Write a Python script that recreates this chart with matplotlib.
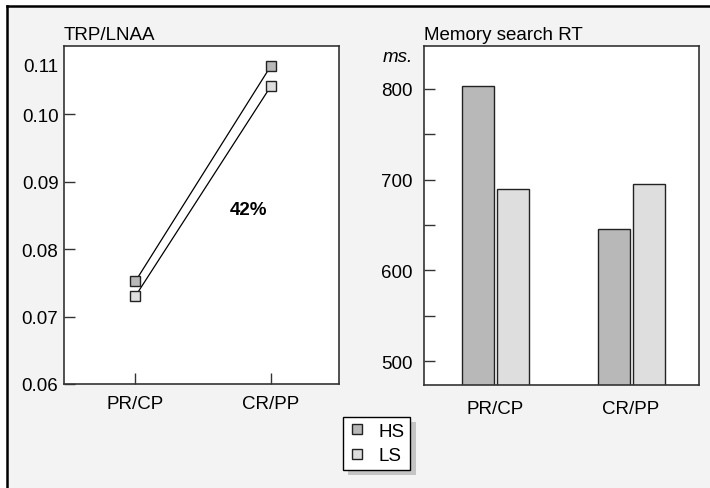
import matplotlib
matplotlib.use('Agg')
import matplotlib.pyplot as plt
import matplotlib.transforms as mtransforms
from matplotlib.patches import Rectangle
from matplotlib.lines import Line2D
import numpy as np

plt.rcParams['font.family'] = ['Liberation Sans', 'DejaVu Sans']

# data
conditions = ['PR/CP', 'CR/PP']
groups = ['HS', 'LS']
trp_hs = [0.0752, 0.1072]
trp_ls = [0.0730, 0.1042]
rt_hs = [803, 646]
rt_ls = [690, 695]
change_label = '42%'

colours = {'HS': '#b8b8b8', 'LS': '#dedede'}
W, H = 710, 489
fs = 13.5

fig = plt.figure(figsize=(W / 100, H / 100), dpi=100)
fig.patch.set_facecolor('white')

# grey panel with black top / left border
fig.patches.append(Rectangle((7 / W, 0), 1, 1 - 7 / H, transform=fig.transFigure,
                             facecolor='#f3f3f3', edgecolor='none', zorder=-2))
fig.lines.append(Line2D([7 / W, 7 / W], [0, 1 - 7 / H], transform=fig.transFigure,
                        color='black', lw=1.8, zorder=-1))
fig.lines.append(Line2D([7 / W, 1], [1 - 7 / H, 1 - 7 / H], transform=fig.transFigure,
                        color='black', lw=1.8, zorder=-1))

ax1 = fig.add_axes([64 / W, 1 - 385 / H, 275 / W, 338 / H])
ax2 = fig.add_axes([424 / W, 1 - 386 / H, 275 / W, 339 / H])

x = np.arange(len(conditions))

for ax in (ax1, ax2):
    ax.set_facecolor('white')
    for s in ax.spines.values():
        s.set_color('#333333')
        s.set_linewidth(1.2)
    ax.set_xlim(-0.525, 1.5)
    ax.set_xticks(x)
    ax.set_xticklabels(conditions, fontsize=fs)

# --- left: TRP/LNAA lines
for g, vals in (('HS', trp_hs), ('LS', trp_ls)):
    ax1.plot(x, vals, color='black', lw=0.9, marker='s', markersize=7.5,
             markerfacecolor=colours[g], markeredgecolor='#222222', markeredgewidth=1.0)
ax1.set_ylim(0.06, 0.1101)
ax1.set_yticks([0.06, 0.07, 0.08, 0.09, 0.10, 0.11])
ax1.set_yticklabels(['0.06', '0.07', '0.08', '0.09', '0.10', '0.11'], fontsize=fs)
ax1.tick_params(axis='both', direction='in', length=8, width=1, color='#333333')
ax1.tick_params(axis='y', pad=4)
ax1.tick_params(axis='x', pad=8)
ax1.set_title('TRP/LNAA', loc='left', fontsize=fs, pad=5)
ax1.text(0.83, 0.0859, change_label, fontsize=fs, fontweight='bold', ha='center', va='center')
# the top label sits a little below the frame in the original, with no tick mark
top_tick = ax1.yaxis.get_major_ticks()[-1]
top_tick.tick1line.set_visible(False)
lab = top_tick.label1
lab.set_transform(lab.get_transform() + mtransforms.ScaledTranslation(0, -18 / 100, fig.dpi_scale_trans))

# --- right: memory search RT bars
bw = 0.235
off = 0.129
ax2.bar(x - off, rt_hs, width=bw, color=colours['HS'], edgecolor='#222222', linewidth=1.0)
ax2.bar(x + off, rt_ls, width=bw, color=colours['LS'], edgecolor='#222222', linewidth=1.0)
ax2.set_ylim(474, 847)
ax2.set_yticks([500, 600, 700, 800])
ax2.set_yticks([550, 650, 750], minor=True)
ax2.tick_params(axis='y', which='both', direction='in', length=8, width=1, color='#333333',
                labelsize=fs, pad=8)
ax2.tick_params(axis='x', length=0, pad=11)
ax2.set_title('Memory search RT', loc='left', fontsize=fs, pad=5)
ax2.text(-0.04, 0.97, 'ms.', transform=ax2.transAxes, fontsize=fs, style='italic',
         ha='right', va='center')

# legend
handles = [Line2D([], [], ls='none', marker='s', markersize=7.5, markerfacecolor=colours[g],
                  markeredgecolor='#222222') for g in groups]
leg = fig.legend(handles, groups, loc='upper left', bbox_to_anchor=(343 / W, 1 - 418 / H),
                 fontsize=fs, frameon=True, fancybox=False, framealpha=1,
                 edgecolor='black', handlelength=0.9, handletextpad=0.7,
                 borderpad=0.3, labelspacing=0.4, borderaxespad=0)
leg.get_frame().set_linewidth(1.0)
leg.set_zorder(5)

fig.canvas.draw()
bb = leg.get_window_extent()
fig.patches.append(Rectangle(((bb.x0 + 5) / W, (bb.y0 - 5) / H), (bb.width + 1) / W, bb.height / H,
                             transform=fig.transFigure, facecolor='#c4c4c4',
                             edgecolor='none', zorder=4))

fig.savefig('out.png', dpi=100)
